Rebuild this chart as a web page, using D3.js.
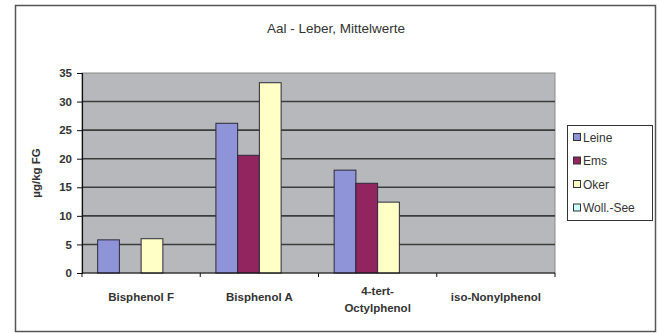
<!DOCTYPE html>
<html>
<head>
<meta charset="utf-8">
<script src="https://cdn.jsdelivr.net/npm/d3@7/dist/d3.min.js"></script>
<style>
  html, body { margin: 0; padding: 0; background: #ffffff; }
  svg { display: block; }
  text { font-family: Arial, "Liberation Sans", sans-serif; }
</style>
</head>
<body>
<svg id="chart" width="659" height="333"></svg>
<script>
// Substances (x categories)
const categories = ["Bisphenol F", "Bisphenol A", "4-tert-\nOctylphenol", "iso-Nonylphenol"];
// Sampling sites (series)
const seriesNames = ["Leine", "Ems", "Oker", "Woll.-See"];
const seriesColors = ["#8f93d8", "#922460", "#ffffc6", "#ccffff"];
// Mean values in µg/kg FG per site; null = no value
const leine = [5.8, 26.2, 18.0, null];
const ems = [null, 20.6, 15.7, null];
const oker = [6.0, 33.3, 12.4, null];
const wollSee = [null, null, null, null];
const yTicks = [0, 5, 10, 15, 20, 25, 30, 35];

const seriesValues = [leine, ems, oker, wollSee];

const svg = d3.select("#chart");

// outer chart frame
svg.append("rect")
  .attr("x", 15.5).attr("y", 5.5)
  .attr("width", 640).attr("height", 326)
  .attr("fill", "#ffffff")
  .attr("stroke", "#555555").attr("stroke-width", 1.5);

const plot = { left: 82, top: 73, right: 555, bottom: 273 };

const x = d3.scaleBand()
  .domain(categories)
  .range([plot.left, plot.right])
  .paddingInner(0).paddingOuter(0);

const y = d3.scaleLinear()
  .domain([0, 35])
  .range([plot.bottom, plot.top]);

// bars inside each category band
const xs = d3.scaleBand()
  .domain(seriesNames)
  .range([0, x.bandwidth()])
  .paddingInner(0)
  .paddingOuter(0.72);

// plot area background
svg.append("rect")
  .attr("x", plot.left).attr("y", plot.top)
  .attr("width", plot.right - plot.left).attr("height", plot.bottom - plot.top)
  .attr("fill", "#b7b8bb")
  .attr("stroke", "#8a8a8a").attr("stroke-width", 1);

// horizontal gridlines
svg.append("g")
  .selectAll("line")
  .data(yTicks.filter(t => t > 0 && t < 35))
  .join("line")
  .attr("x1", plot.left).attr("x2", plot.right)
  .attr("y1", d => y(d)).attr("y2", d => y(d))
  .attr("stroke", "#3c3c3c").attr("stroke-width", 1.6);

// bars
const barData = [];
categories.forEach((c, ci) => {
  seriesNames.forEach((s, si) => {
    const v = seriesValues[si][ci];
    if (v != null) barData.push({ c, s, si, v });
  });
});

svg.append("g")
  .selectAll("rect")
  .data(barData)
  .join("rect")
  .attr("x", d => x(d.c) + xs(d.s))
  .attr("y", d => y(d.v))
  .attr("width", xs.bandwidth())
  .attr("height", d => y(0) - y(d.v))
  .attr("fill", d => seriesColors[d.si])
  .attr("stroke", "#2a2a3a").attr("stroke-width", 1);

// y axis
const yAxis = svg.append("g")
  .attr("transform", `translate(${plot.left},0)`)
  .call(d3.axisLeft(y).tickValues(yTicks).tickSize(5).tickPadding(5));
yAxis.select(".domain").attr("stroke", "#111").attr("stroke-width", 1.2);
yAxis.selectAll(".tick line").attr("stroke", "#111");
yAxis.selectAll("text")
  .attr("font-size", 11.5).attr("font-weight", "bold").attr("fill", "#333")
  .attr("font-family", "Arial, 'Liberation Sans', sans-serif");

// x axis: ticks at category boundaries
const xAxisG = svg.append("g");
xAxisG.append("line")
  .attr("x1", plot.left).attr("x2", plot.right)
  .attr("y1", plot.bottom).attr("y2", plot.bottom)
  .attr("stroke", "#111").attr("stroke-width", 1.2);
const boundaries = categories.map(c => x(c)).concat([x(categories[categories.length - 1]) + x.bandwidth()]);
xAxisG.selectAll("line.tick")
  .data(boundaries)
  .join("line")
  .attr("class", "tick")
  .attr("x1", d => d).attr("x2", d => d)
  .attr("y1", plot.bottom).attr("y2", plot.bottom + 4)
  .attr("stroke", "#111");

// category labels
const catLabels = xAxisG.selectAll("text.cat")
  .data(categories)
  .join("text")
  .attr("class", "cat")
  .attr("text-anchor", "middle")
  .attr("font-size", 11.5).attr("font-weight", "bold").attr("fill", "#333")
  .attr("x", d => x(d) + x.bandwidth() / 2)
  .attr("y", 301);
catLabels.each(function(d) {
  const lines = d.split("\n");
  const t = d3.select(this);
  lines.forEach((ln, i) => {
    t.append("tspan")
      .attr("x", x(d) + x.bandwidth() / 2)
      .attr("dy", i === 0 ? (lines.length > 1 ? -6 : 0) : 17)
      .text(ln);
  });
});

// y-axis title
svg.append("text")
  .attr("transform", `translate(40,${(plot.top + plot.bottom) / 2}) rotate(-90)`)
  .attr("text-anchor", "middle")
  .attr("font-size", 11.5).attr("font-weight", "bold").attr("fill", "#333")
  .text("µg/kg FG");

// chart title
svg.append("text")
  .attr("x", 336).attr("y", 33)
  .attr("text-anchor", "middle")
  .attr("font-size", 13.5).attr("fill", "#333")
  .text("Aal - Leber, Mittelwerte");

// legend
const legend = svg.append("g");
legend.append("rect")
  .attr("x", 567.5).attr("y", 125.5)
  .attr("width", 85).attr("height", 95)
  .attr("fill", "#ffffff")
  .attr("stroke", "#333").attr("stroke-width", 1);
const items = legend.selectAll("g.item")
  .data(seriesNames)
  .join("g")
  .attr("class", "item")
  .attr("transform", (d, i) => `translate(573,${137 + i * 23.5})`);
items.append("rect")
  .attr("x", 0.5).attr("y", -3.5)
  .attr("width", 7).attr("height", 7)
  .attr("fill", (d, i) => seriesColors[i])
  .attr("stroke", "#333").attr("stroke-width", 1);
items.append("text")
  .attr("x", 10).attr("y", 4.5)
  .attr("font-size", 12).attr("fill", "#333")
  .text(d => d);
</script>
</body>
</html>
